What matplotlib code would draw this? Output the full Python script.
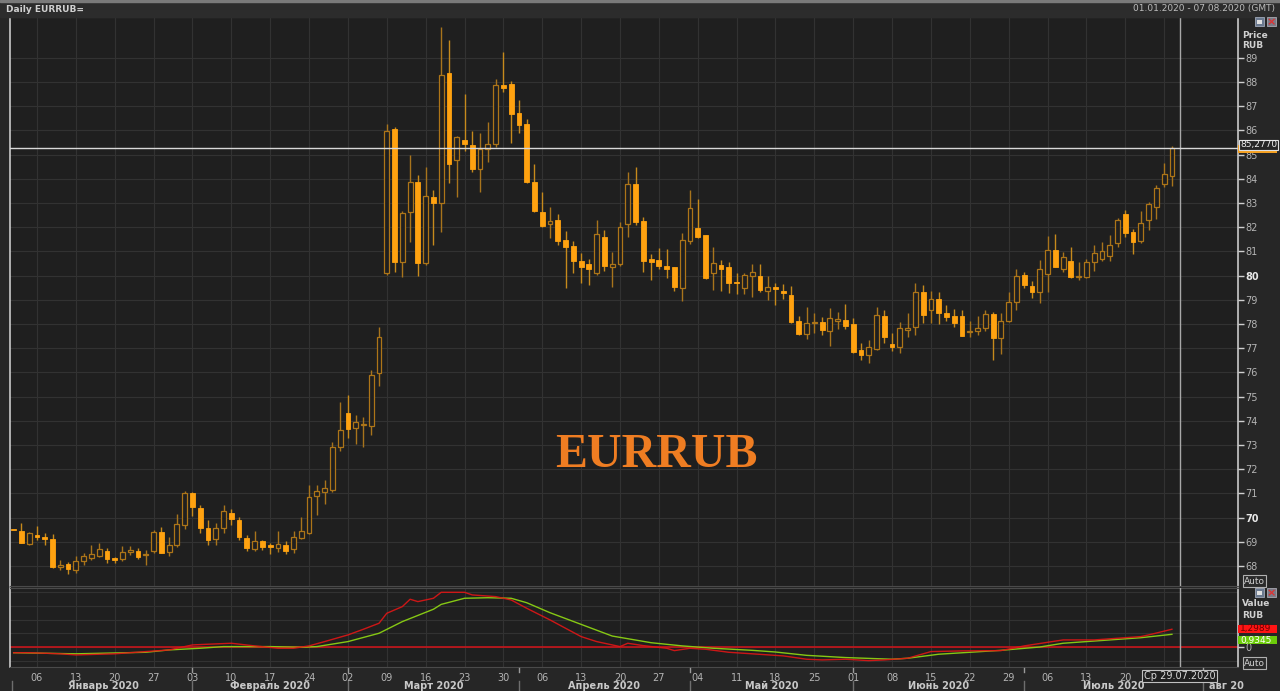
import matplotlib
matplotlib.use('Agg')
import matplotlib.pyplot as plt
import numpy as np
import pandas as pd
from matplotlib.patches import Rectangle
from matplotlib.lines import Line2D
from matplotlib.transforms import blended_transform_factory

# daily EURRUB candles, 01.01.2020 - 28.07.2020 (trading days)
opens = [69.50, 69.45, 68.90, 69.28, 69.21, 69.10, 67.97, 68.07, 67.84, 68.21,
         68.32, 68.41, 68.63, 68.32, 68.29, 68.56, 68.63, 68.45, 68.62, 69.39,
         68.59, 68.87, 69.70, 71.00, 70.38, 69.56, 69.13, 69.56, 70.18, 69.90,
         69.17, 68.70, 69.01, 68.87, 68.76, 68.87, 68.69, 69.14, 69.38, 70.91,
         71.07, 71.14, 72.91, 74.31, 73.69, 73.84, 73.80, 75.97, 80.10, 86.06,
         80.58, 82.61, 83.86, 80.51, 83.24, 83.02, 88.37, 84.76, 85.61, 85.40,
         84.40, 85.22, 85.45, 87.88, 87.93, 86.71, 86.26, 83.86, 82.65, 82.14,
         82.28, 81.48, 81.23, 80.61, 80.48, 80.10, 81.61, 80.35, 80.47, 82.12,
         83.79, 82.26, 80.70, 80.65, 80.41, 80.35, 79.48, 81.45, 81.96, 81.67,
         80.10, 80.44, 80.35, 79.75, 79.48, 80.00, 79.99, 79.35, 79.55, 79.37,
         79.18, 78.13, 77.58, 78.05, 78.10, 77.73, 78.14, 78.17, 78.00, 76.93,
         76.70, 76.96, 78.35, 77.18, 77.04, 77.76, 77.89, 79.31, 78.56, 79.02,
         78.46, 78.35, 78.35, 77.66, 77.71, 77.83, 78.40, 77.41, 78.14, 78.89,
         80.03, 79.57, 79.34, 80.06, 81.04, 80.28, 80.62, 79.96, 79.93, 80.55,
         80.69, 80.83, 81.34, 82.55, 81.79, 81.45, 82.28, 82.85, 83.78, 84.10]
highs = [69.50, 69.76, 69.42, 69.63, 69.38, 69.32, 68.25, 68.18, 68.41, 68.55,
         68.87, 68.96, 68.73, 68.36, 68.83, 68.83, 68.73, 68.66, 69.49, 69.60,
         69.18, 70.14, 71.11, 71.07, 70.52, 69.90, 69.79, 70.52, 70.34, 70.01,
         69.28, 69.46, 69.07, 68.94, 69.46, 69.01, 69.46, 70.01, 71.35, 71.35,
         71.55, 73.14, 74.79, 75.07, 74.24, 74.15, 76.08, 77.89, 86.27, 86.16,
         82.69, 84.99, 84.16, 84.51, 83.54, 90.27, 89.74, 85.78, 87.51, 85.98,
         85.89, 86.34, 88.12, 89.23, 88.06, 87.24, 86.48, 84.62, 83.45, 82.83,
         82.54, 81.86, 81.45, 80.92, 80.68, 82.28, 81.89, 80.99, 82.23, 84.30,
         84.47, 82.41, 80.90, 81.13, 81.09, 80.37, 81.75, 83.52, 83.16, 81.68,
         81.20, 80.65, 80.55, 80.10, 80.10, 80.48, 80.48, 80.00, 79.71, 79.64,
         79.59, 78.35, 78.72, 78.45, 78.28, 78.65, 78.49, 78.83, 78.24, 77.23,
         77.34, 78.69, 78.56, 77.62, 78.10, 78.45, 79.69, 79.62, 79.37, 79.31,
         78.79, 78.61, 78.58, 78.14, 78.31, 78.58, 78.51, 78.45, 79.31, 80.26,
         80.13, 79.79, 80.65, 81.64, 81.72, 80.97, 81.17, 80.55, 80.68, 81.27,
         81.38, 81.68, 82.40, 82.72, 81.93, 82.69, 83.06, 83.75, 84.65, 85.36]
lows = [69.48, 68.94, 68.87, 69.07, 68.87, 67.90, 67.83, 67.65, 67.72, 68.04,
        68.25, 68.36, 68.11, 68.14, 68.22, 68.45, 68.28, 68.04, 68.52, 68.52,
        68.41, 68.80, 69.52, 70.07, 69.38, 68.87, 68.85, 69.38, 69.70, 69.07,
        68.63, 68.63, 68.66, 68.50, 68.59, 68.50, 68.55, 69.10, 69.32, 70.11,
        70.56, 71.07, 72.77, 73.28, 73.04, 72.91, 73.41, 75.44, 80.03, 80.17,
        79.96, 81.41, 79.99, 80.44, 81.27, 81.82, 83.82, 83.27, 85.17, 84.30,
        83.47, 84.71, 85.31, 87.61, 85.47, 85.89, 83.82, 82.61, 82.00, 81.55,
        81.27, 79.48, 80.10, 79.71, 79.62, 80.03, 80.21, 79.55, 80.40, 81.59,
        82.10, 80.13, 79.82, 80.26, 79.89, 79.38, 78.97, 81.31, 81.54, 79.85,
        79.41, 79.38, 79.30, 79.24, 79.24, 79.11, 79.34, 79.00, 78.79, 79.04,
        78.03, 77.55, 77.38, 77.62, 77.55, 77.11, 77.78, 77.78, 76.79, 76.52,
        76.38, 76.93, 77.20, 76.90, 76.79, 77.48, 77.55, 78.06, 78.06, 78.00,
        78.14, 77.89, 77.51, 77.48, 77.55, 77.69, 76.52, 76.76, 78.10, 78.56,
        79.48, 79.09, 78.86, 79.34, 80.35, 80.13, 79.89, 79.82, 79.89, 80.19,
        80.61, 80.61, 81.17, 81.59, 80.90, 81.34, 81.89, 82.34, 83.65, 83.71]
closes = [69.48, 68.96, 69.35, 69.19, 69.10, 67.94, 68.02, 67.86, 68.21, 68.39,
          68.50, 68.70, 68.28, 68.26, 68.56, 68.65, 68.36, 68.50, 69.39, 68.55,
          68.87, 69.72, 71.00, 70.43, 69.56, 69.07, 69.58, 70.27, 69.96, 69.19,
          68.73, 69.01, 68.80, 68.77, 68.90, 68.62, 69.19, 69.46, 70.84, 71.10,
          71.21, 72.93, 73.62, 73.68, 73.94, 73.88, 75.90, 77.45, 85.98, 80.58,
          82.58, 83.89, 80.51, 83.31, 83.02, 88.30, 84.62, 85.72, 85.45, 84.40,
          85.22, 85.45, 87.88, 87.75, 86.69, 86.23, 83.86, 82.69, 82.07, 82.25,
          81.43, 81.20, 80.62, 80.37, 80.26, 81.71, 80.40, 80.47, 82.00, 83.78,
          82.23, 80.62, 80.58, 80.40, 80.29, 79.55, 81.48, 82.81, 81.59, 79.92,
          80.51, 80.28, 79.68, 79.68, 80.03, 80.14, 79.41, 79.55, 79.45, 79.27,
          78.07, 77.58, 78.06, 78.10, 77.74, 78.24, 78.21, 77.93, 76.86, 76.70,
          77.04, 78.38, 77.45, 77.04, 77.85, 77.83, 79.34, 78.38, 79.02, 78.45,
          78.27, 78.06, 77.52, 77.71, 77.83, 78.40, 77.41, 78.14, 78.90, 79.99,
          79.62, 79.34, 80.28, 81.04, 80.37, 80.76, 79.96, 80.00, 80.55, 80.92,
          81.02, 81.27, 82.30, 81.78, 81.37, 82.16, 82.97, 83.64, 84.21, 85.277]

# MACD panel (trading-day index, value)
macd_idx = [0, 2, 6, 8, 13, 17, 20, 23, 25, 28, 31, 34, 36, 38, 40, 43, 45, 47, 48, 50,
            51, 52, 54, 55, 58, 59, 62, 64, 66, 69, 73, 75, 78, 79, 81, 84, 85, 87, 89, 92,
            95, 99, 102, 104, 107, 110, 112, 115, 118, 122, 127, 130, 135, 139, 145, 146, 149]
macd_vals = [-0.39, -0.39, -0.47, -0.55, -0.47, -0.31, -0.19, 0.17, 0.22, 0.29,
             0.10, -0.07, -0.07, 0.10, 0.41, 0.89, 1.30, 1.73, 2.45, 2.93,
             3.46, 3.29, 3.53, 3.96, 3.96, 3.77, 3.65, 3.41, 2.81, 1.97,
             0.77, 0.41, 0.05, 0.29, 0.12, -0.07, -0.24, -0.07, -0.14, -0.36,
             -0.47, -0.62, -0.86, -0.91, -0.86, -0.96, -0.91, -0.79, -0.31, -0.26,
             -0.24, 0.10, 0.53, 0.53, 0.77, 0.89, 1.2989]
signal_idx = [0, 8, 17, 20, 24, 27, 33, 37, 39, 43, 47, 50, 54, 55, 58, 61, 64, 66, 69, 73,
              77, 82, 86, 90, 95, 98, 102, 107, 113, 115, 119, 127, 132, 135, 142, 145, 149]
signal_vals = [-0.39, -0.47, -0.36, -0.19, -0.07, 0.05, 0.05, 0.0, 0.05, 0.41,
               1.01, 1.85, 2.74, 3.09, 3.53, 3.57, 3.53, 3.21, 2.49, 1.65,
               0.81, 0.33, 0.10, -0.07, -0.22, -0.34, -0.58, -0.74, -0.86, -0.79,
               -0.50, -0.22, 0.02, 0.29, 0.57, 0.69, 0.9345]

month_labels = ['Январь 2020', 'Февраль 2020', 'Март 2020', 'Апрель 2020',
                'Май 2020', 'Июнь 2020', 'Июль 2020', 'авг 20']

days = pd.bdate_range('2020-01-01', '2020-08-07')
n = len(closes)
cursor_idx = 150  # 29.07.2020

W, H = 1280, 691
def fx(x):
    return x / W
def fy(y):
    return 1 - y / H

BG = '#1f1f1f'
plt.rcParams['font.family'] = ['DejaVu Sans']
fig = plt.figure(figsize=(12.8, 6.91), dpi=100, facecolor='#262626')
ax = fig.add_axes([fx(10), fy(586), (1238 - 10) / W, (586 - 17) / H], facecolor=BG)
ax2 = fig.add_axes([fx(10), fy(667), (1238 - 10) / W, (667 - 588) / H], facecolor=BG)

# header strip
fig.patches.append(Rectangle((0, fy(17)), 1, 17 / H, transform=fig.transFigure,
                             color='#2c2c2c', zorder=0))
fig.patches.append(Rectangle((0, fy(2)), 1, 2 / H, transform=fig.transFigure,
                             color='#7a7a7a', zorder=0))
fig.text(fx(6), fy(9), 'Daily EURRUB=', fontsize=6.5, fontweight='bold',
         color='#d0d0d0', va='center')
fig.text(fx(1275), fy(9), '01.01.2020 - 07.08.2020 (GMT)', fontsize=6.5,
         color='#bdbdbd', va='center', ha='right')

# candles
o = np.array(opens)
c = np.array(closes)
hi = np.array(highs)
lo = np.array(lows)
x = np.arange(n)
up = c >= o
bottom = np.minimum(o, c)
height = np.maximum(np.abs(c - o), 0.04)
wick_col = np.where(up, '#a8741c', '#c68a1c')
ax.vlines(x, lo, hi, colors=wick_col, lw=1, zorder=2)
ax.bar(x[up], height[up], bottom=bottom[up], width=0.62, facecolor=BG,
       edgecolor='#ad7518', lw=0.9, zorder=3)
ax.bar(x[~up], height[~up], bottom=bottom[~up], width=0.62, facecolor='#ffa210',
       edgecolor='#ffa210', lw=0.6, zorder=3)

mondays = [i for i in range(n) if days[i].weekday() == 0]
xlim = (-0.47, 157.5)
for a in (ax, ax2):
    a.set_xlim(*xlim)
    a.set_xticks(mondays)
    a.grid(True, color='#323232', lw=0.8)
    a.set_axisbelow(True)
    a.yaxis.tick_right()
    for s in ('top', 'bottom'):
        a.spines[s].set_color('#4a4a4a')
    for s in ('left', 'right'):
        a.spines[s].set_color('#d8d8d8')
        a.spines[s].set_linewidth(1.1)
    a.axvline(cursor_idx, color='#a8a8a8', lw=1, zorder=5)

ax.set_ylim(67.17, 90.69)
ax.set_yticks(range(68, 90))
ax.tick_params(axis='x', length=0, labelbottom=False)
ax.tick_params(axis='y', colors='#cfcfcf', labelcolor='#b4b4b4', labelsize=7,
               length=4, width=1, pad=1)
for lab in ax.get_yticklabels():
    if lab.get_text() in ('70', '80'):
        lab.set_fontweight('bold')
        lab.set_color('#e8e8e8')
ax.axhline(closes[-1], color='#d8d8d8', lw=1, zorder=5)

ax.text(0.526, 0.23, 'EURRUB', transform=ax.transAxes, ha='center', va='center',
        fontsize=34.5, fontweight='bold', color='#ef7d22',
        family=['Liberation Serif', 'DejaVu Serif'])

# MACD pane
ax2.set_ylim(-1.42, 4.27)
ax2.set_yticks([0])
ax2.set_yticklabels(['0'])
ax2.set_yticks([-1, 1, 2, 3, 4], minor=True)
ax2.tick_params(axis='y', which='minor', length=0)
ax2.grid(True, which='minor', axis='y', color='#323232', lw=0.8)
ax2.tick_params(axis='y', colors='#cfcfcf', labelcolor='#b4b4b4', labelsize=7,
                length=4, width=1, pad=1)
ax2.axhline(0, color='#c8141a', lw=1.2, zorder=2)
ax2.plot(signal_idx, signal_vals, color='#86c814', lw=1, zorder=3)
ax2.plot(macd_idx, macd_vals, color='#e01616', lw=1, zorder=3, alpha=0.9)

# the cursor date box covers the last monday label
tick_text = [days[i].strftime('%d') if abs(i - cursor_idx) > 4 else '' for i in mondays]
ax2.set_xticklabels(tick_text)
ax2.tick_params(axis='x', length=0, pad=4, labelsize=7, labelcolor='#b4b4b4')

# month row
tr = blended_transform_factory(ax2.transData, fig.transFigure)
firsts = []
prev = None
for i, d in enumerate(days):
    if d.month != prev:
        firsts.append(i)
        prev = d.month
bounds = firsts + [len(days) + 5]
for k, lab in enumerate(month_labels):
    s = max(bounds[k], xlim[0])
    e = min(bounds[k + 1], xlim[1])
    if k == len(month_labels) - 1:
        fig.text(bounds[k] + 0.8, fy(686), lab, transform=tr, ha='left', va='center',
                 fontsize=7, fontweight='bold', color='#c8c8c8')
    else:
        fig.text((s + e) / 2, fy(686), lab, transform=tr, ha='center', va='center',
                 fontsize=7, fontweight='bold', color='#c8c8c8')
    if k > 0:
        fig.lines.append(Line2D([bounds[k]] * 2, [fy(681), fy(691)], transform=tr,
                                color='#6e6e6e', lw=1))
        fig.lines.append(Line2D([bounds[k]] * 2, [fy(668), fy(672)], transform=tr,
                                color='#9a9a9a', lw=1))
fig.lines.append(Line2D([fx(12)] * 2, [fy(681), fy(691)], transform=fig.transFigure,
                        color='#6e6e6e', lw=1))
fig.text(cursor_idx, fy(676), 'Ср 29.07.2020', transform=tr, ha='center', va='center',
         fontsize=7, color='#d8d8d8',
         bbox=dict(boxstyle='square,pad=0.15', fc=BG, ec='#c0c0c0', lw=0.8))

# right-hand labels
def icons(y):
    fig.patches.append(Rectangle((fx(1255), fy(y + 4)), 9 / W, 9 / H,
                                 transform=fig.transFigure, fc='#6b7a90', ec='#a0a8b8', lw=0.6))
    fig.patches.append(Rectangle((fx(1257), fy(y + 2)), 5 / W, 4 / H,
                                 transform=fig.transFigure, fc='#e0e0e0', ec='none'))
    fig.patches.append(Rectangle((fx(1267), fy(y + 4)), 9 / W, 9 / H,
                                 transform=fig.transFigure, fc='#7a7a86', ec='#a8a8b0', lw=0.6))
    fig.text(fx(1271.5), fy(y), '×', fontsize=8, color='#e03030', ha='center',
             va='center', fontweight='bold')

icons(22)
icons(593)
fig.text(fx(1242), fy(35), 'Price', fontsize=6.5, fontweight='bold', color='#d0d0d0', va='center')
fig.text(fx(1242), fy(46), 'RUB', fontsize=6.5, fontweight='bold', color='#d0d0d0', va='center')
fig.text(fx(1242), fy(604), 'Value', fontsize=6.5, fontweight='bold', color='#d0d0d0', va='center')
fig.text(fx(1242), fy(616), 'RUB', fontsize=6.5, fontweight='bold', color='#d0d0d0', va='center')

fig.patches.append(Rectangle((fx(1238), fy(153)), 39 / W, 8 / H, transform=fig.transFigure,
                             fc='#f5a020', ec='none', zorder=3))
fig.text(fx(1240), fy(145), f'{closes[-1]:.4f}'.replace('.', ','), fontsize=6.5,
         color='#f0f0f0', va='center', zorder=4,
         bbox=dict(boxstyle='square,pad=0.1', fc='#262626', ec='#e0e0e0', lw=0.8))
fig.patches.append(Rectangle((fx(1238), fy(633)), 39 / W, 8 / H, transform=fig.transFigure,
                             fc='#ff1414', ec='none'))
fig.text(fx(1240), fy(629), f'{macd_vals[-1]:.4f}'.replace('.', ','), fontsize=6.5,
         color='#6a0000', va='center')
fig.patches.append(Rectangle((fx(1238), fy(644)), 39 / W, 8 / H, transform=fig.transFigure,
                             fc='#6ccc0a', ec='none'))
fig.text(fx(1240), fy(640), f'{signal_vals[-1]:.4f}'.replace('.', ','), fontsize=6.5,
         color='#ffffff', va='center')
for y in (581, 663):
    fig.text(fx(1244), fy(y), 'Auto', fontsize=6.5, color='#d0d0d0', va='center',
             bbox=dict(boxstyle='square,pad=0.12', fc='#2a2a2a', ec='#b0b0b0', lw=0.8))

fig.savefig('out.png', dpi=100, facecolor=fig.get_facecolor())
